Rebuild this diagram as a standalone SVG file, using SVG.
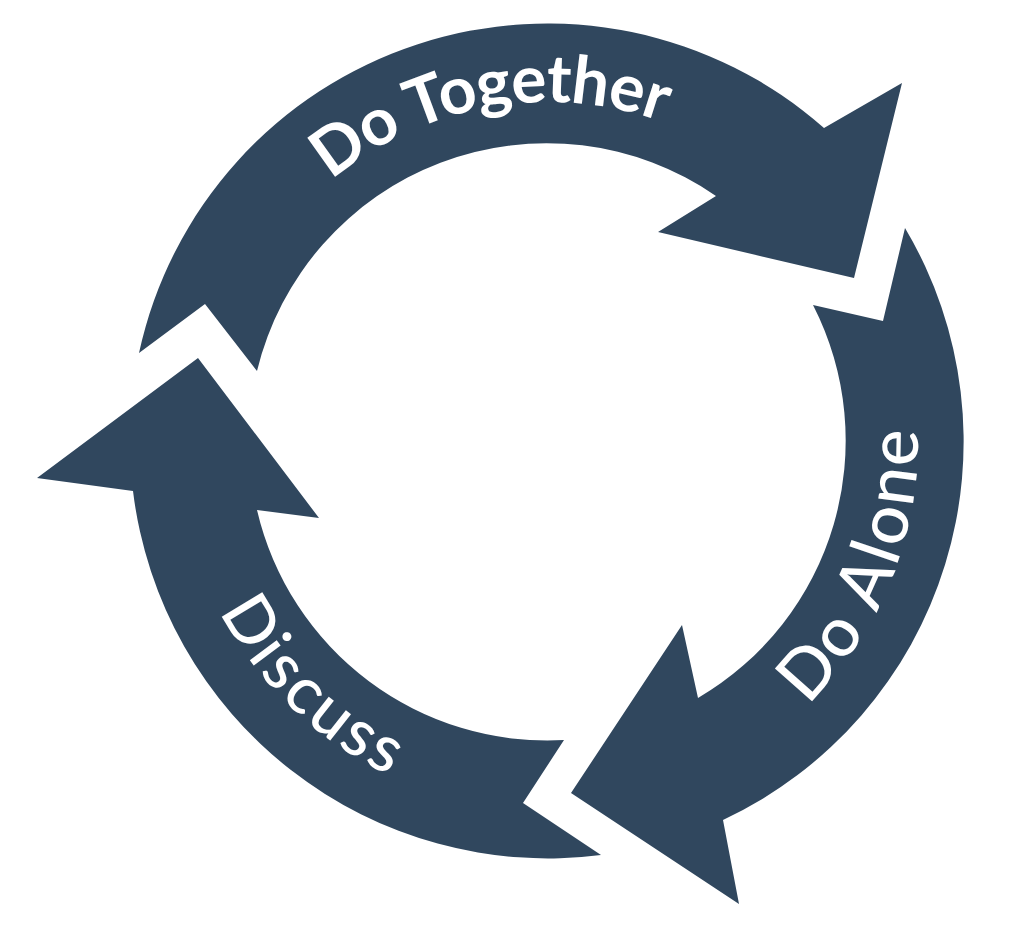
<svg xmlns="http://www.w3.org/2000/svg" width="1024" height="932" viewBox="0 0 1024 932">
  <style>
    .arrow { fill: #30475E; stroke: none; }
    .lbl { fill: #FFFFFF; font-family: Lato, "Noto Sans", "Liberation Sans", sans-serif; }
  </style>
  <defs>
    <path id="pTogether" d="M288.3,223.1 A339,339 0 0 1 717.5,147.4"/>
    <path id="pAlone" d="M722.3,767.4 A370,370 0 0 0 899.7,326.0"/>
    <path id="pDiscuss" d="M180,479.7 A370,370 0 0 0 522.2,810.1"/>
  </defs>
  <rect width="1024" height="932" fill="#FFFFFF"/>
  <g id="connectors"></g>
  <g id="node-do-together">
    <path class="arrow" d="M139,353 A418,418 0 0 1 824,128 L902,83 L854,278 L658,232 L716,196 A298,298 0 0 0 257,371 L205,304 Z"/>
    <text class="lbl" font-size="66" font-weight="700"><textPath href="#pTogether" startOffset="50%" text-anchor="middle" textLength="352">Do Together</textPath></text>
  </g>
  <g id="node-do-alone">
    <path class="arrow" d="M905,228 A418,418 0 0 1 723,820 L739,904 L571,793 L682,625 L698,698 A298,298 0 0 0 813,305 L883,321 Z"/>
    <text class="lbl" font-size="69" font-weight="500"><textPath href="#pAlone" startOffset="50%" text-anchor="middle" textLength="305">Do Alone</textPath></text>
  </g>
  <g id="node-discuss">
    <path class="arrow" d="M601,855 A418,418 0 0 1 133,491 L37,478 L198,358 L319,518 L257,510 A298,298 0 0 0 564,740 L523,803 Z"/>
    <text class="lbl" font-size="66" font-weight="500"><textPath href="#pDiscuss" startOffset="50%" text-anchor="middle" textLength="240">Discuss</textPath></text>
  </g>
</svg>
